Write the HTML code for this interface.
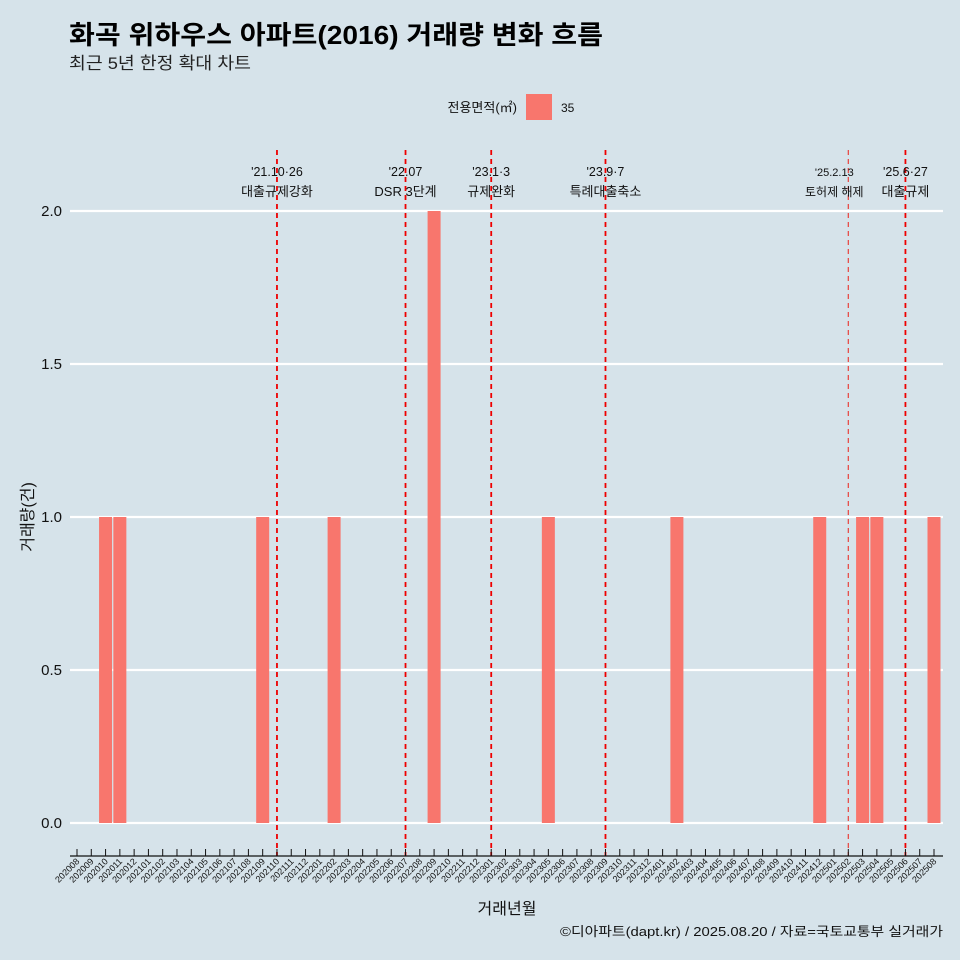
<!DOCTYPE html>
<html><head><meta charset="utf-8"><style>
body{margin:0;background:#d6e3ea;}
svg{display:block;font-family:"Liberation Sans","Noto Sans CJK KR",sans-serif;}
</style></head><body>
<svg id="chart" width="960" height="960" viewBox="0 0 960 960">
<rect width="960" height="960" fill="#d6e3ea"/>
<text x="69" y="44" font-size="26" font-weight="bold" fill="#000" textLength="534" lengthAdjust="spacingAndGlyphs">화곡 위하우스 아파트(2016) 거래량 변화 흐름</text>
<text x="69" y="69" font-size="17" fill="#222" textLength="182" lengthAdjust="spacingAndGlyphs">최근 5년 한정 확대 차트</text>
<g>
<text x="517" y="112" font-size="13" text-anchor="end" fill="#111">전용면적(㎡)</text>
<rect x="526" y="94" width="26" height="26" fill="#f8766d"/>
<text x="561" y="112" font-size="12" fill="#111">35</text>
</g>
<g id="grid"></g><g id="bars"></g><g id="events"></g><g id="axes"></g>
<text transform="translate(33,517) rotate(-90)" font-size="16" text-anchor="middle" fill="#111">거래량(건)</text>
<text x="507" y="914" font-size="16" text-anchor="middle" fill="#111">거래년월</text>
<text x="943" y="936" font-size="13" text-anchor="end" fill="#111" textLength="383" lengthAdjust="spacingAndGlyphs">©디아파트(dapt.kr) / 2025.08.20 / 자료=국토교통부 실거래가</text>
</svg>
<script>
const months=[];for(let y=2020;y<=2025;y++)for(let m=1;m<=12;m++){const k=y*100+m;if(k>=202008&&k<=202508)months.push(String(k));}
const barMonths=["202010","202011","202109","202202","202209","202305","202402","202412","202503","202504","202508"];
const barValues=[1,1,1,1,2,1,1,1,1,1,1];
const yTicks=[0,0.5,1,1.5,2];
const yTickLabels=["0.0","0.5","1.0","1.5","2.0"];
const eventMonths=["202110","202207","202301","202309","202502","202506"];
const eventDates=["'21.10·26","'22.07","'23.1·3","'23.9·7","'25.2.13","'25.6·27"];
const eventLabels=["대출규제강화","DSR 3단계","규제완화","특례대출축소","토허제 해제","대출규제"];
const NS="http://www.w3.org/2000/svg";
function mk(p,t,a,txt){const e=document.createElementNS(NS,t);for(const k in a)e.setAttribute(k,a[k]);if(txt!=null)e.textContent=txt;document.getElementById(p).appendChild(e);return e;}
const x=m=>77+months.indexOf(m)*(857/60);
const y=v=>823-v*306;
const L=70,R=943;
yTicks.forEach((v,i)=>{
 let g=mk("grid","line",{x1:L,x2:R,y1:y(v),y2:y(v),stroke:"#fff","stroke-width":2.2});
 
 
 let t=mk("axes","text",{x:62,y:y(v)+5,"font-size":15,"text-anchor":"end",fill:"#111"},yTickLabels[i]);
 
 
});
barMonths.forEach((m,i)=>{
 let r=mk("bars","rect",{x:x(m)-6.5,y:y(barValues[i]),width:13,height:y(0)-y(barValues[i]),fill:"#f8766d"});
 
 
});
eventMonths.forEach((m,i)=>{
 const small=m==="202502";
 let l=mk("events","line",{x1:x(m),x2:x(m),y1:150,y2:856,stroke:small?"#e8403a":"#e00",
   "stroke-width":small?1.2:1.8,"stroke-dasharray":"5,4"});
 
 
 let dx=small?-14:0;
 let d=mk("events","text",{x:x(m)+dx,y:176,"font-size":small?11:12.5,"text-anchor":"middle",fill:"#111"},eventDates[i]);
 
 
 let t=mk("events","text",{x:x(m)+dx,y:196,"font-size":small?12:13,"text-anchor":"middle",fill:"#111"},eventLabels[i]);
 
 
});
let ax=mk("axes","line",{x1:L,x2:R,y1:856,y2:856,stroke:"#111","stroke-width":1.2});


months.forEach(m=>{
 let t=mk("axes","line",{x1:x(m),x2:x(m),y1:849,y2:856,stroke:"#111","stroke-width":1});
 
 
 let lb=mk("axes","text",{transform:`translate(${x(m)+3},${862}) rotate(-45)`,"font-size":9,"text-anchor":"end",fill:"#111"},m);
 
 
});
</script>
</body></html>
